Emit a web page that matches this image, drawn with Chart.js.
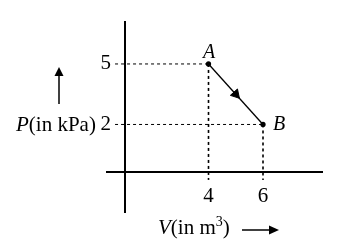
<!DOCTYPE html>
<html>
<head>
<meta charset="utf-8">
<script src="https://cdn.jsdelivr.net/npm/chart.js@4.4.1/dist/chart.umd.min.js"></script>
<style>
  html, body { margin: 0; padding: 0; background: #fff; }
  #wrap { width: 361px; height: 244px; }
</style>
</head>
<body>
<div id="wrap"><canvas id="myChart"></canvas></div>
<script>
// states of the gas
const stateNames = ['A', 'B'];
const volumes = [4, 6];     // V (m^3)
const pressures = [5, 2];   // P (kPa)
const xTicks = [4, 6];
const yTicks = [5, 2];

document.addEventListener('DOMContentLoaded', () => {
  const ctx = document.getElementById('myChart');
  const serif = "'Liberation Serif', 'DejaVu Serif', serif";

  // where the two axes cross, and how far the guide lines run
  const cross = { x: 0.94, y: -0.34 };
  const guideLeft = 0.57;
  const guideLow = -0.75;

  const dotted = {
    borderColor: '#000',
    borderWidth: 1,
    borderDash: [3, 3],
    pointRadius: 0,
    fill: false,
    clip: false
  };
  const guides = [];
  volumes.forEach((v, i) => {
    guides.push({ data: [{ x: guideLeft, y: pressures[i] }, { x: v, y: pressures[i] }], ...dotted });
    guides.push({ data: [{ x: v, y: pressures[i] }, { x: v, y: guideLow }], ...dotted, borderWidth: 1.6 });
  });

  const path = volumes.map((v, i) => ({ x: v, y: pressures[i] }));
  const mid = {
    x: (volumes[0] + volumes[1]) / 2,
    y: (pressures[0] + pressures[1]) / 2
  };

  const labelPlugin = {
    id: 'labels',
    afterDraw(chart) {
      const c = chart.ctx;
      const xs = chart.scales.x, ys = chart.scales.y;
      c.save();
      c.fillStyle = '#000';
      c.strokeStyle = '#000';

      // y tick labels, left of the axis (chart.js puts them on the line
      // when the axis is placed by value)
      c.font = '21px ' + serif;
      c.textAlign = 'right';
      c.textBaseline = 'middle';
      const axisPx = xs.getPixelForValue(cross.x);
      ys.ticks.forEach(t => {
        c.fillText(String(t.value), axisPx - 14, ys.getPixelForValue(t.value));
      });

      c.textBaseline = 'alphabetic';
      // state names
      c.font = 'italic 20px ' + serif;
      c.textAlign = 'center';
      c.fillText(stateNames[0], xs.getPixelForValue(volumes[0]) + 0.5, ys.getPixelForValue(pressures[0]) - 6);
      c.textAlign = 'left';
      c.fillText(stateNames[1], xs.getPixelForValue(volumes[1]) + 10, ys.getPixelForValue(pressures[1]) + 6);

      // y title: P(in kPa) with an up arrow
      let x = 16, y = 131;
      c.font = 'italic 21px ' + serif;
      c.fillText('P', x, y);
      x += c.measureText('P').width;
      c.font = '21px ' + serif;
      c.fillText('(in kPa)', x, y);

      c.lineWidth = 1.5;
      c.beginPath();
      c.moveTo(59, 104);
      c.lineTo(59, 74);
      c.stroke();
      c.beginPath();
      c.moveTo(59, 67);
      c.lineTo(54.5, 76);
      c.lineTo(63.5, 76);
      c.closePath();
      c.fill();

      // x title: V(in m3) with a right arrow
      x = 158; y = 234;
      c.font = 'italic 21px ' + serif;
      c.fillText('V', x, y);
      x += c.measureText('V').width;
      c.font = '21px ' + serif;
      c.fillText('(in m', x, y);
      x += c.measureText('(in m').width;
      c.font = '14px ' + serif;
      c.fillText('3', x, y - 8);
      x += c.measureText('3').width;
      c.font = '21px ' + serif;
      c.fillText(')', x, y);

      c.beginPath();
      c.moveTo(242, 230);
      c.lineTo(270, 230);
      c.stroke();
      c.beginPath();
      c.moveTo(279, 230);
      c.lineTo(269, 225.5);
      c.lineTo(269, 234.5);
      c.closePath();
      c.fill();
      c.restore();
    }
  };

  const config = {
    type: 'line',
    data: {
      datasets: [
        ...guides,
        {
          data: path,
          borderColor: '#000',
          borderWidth: 1.3,
          pointRadius: 2.6,
          pointBackgroundColor: '#000',
          pointBorderWidth: 0,
          fill: false,
          clip: false
        },
        {
          data: [mid],
          showLine: false,
          pointStyle: 'triangle',
          pointRadius: 5.5,
          rotation: 138,
          backgroundColor: '#000',
          borderColor: '#000',
          borderWidth: 1
        }
      ]
    },
    options: {
      responsive: true,
      maintainAspectRatio: false,
      animation: false,
      layout: { padding: { left: 107, right: 39, top: 22, bottom: 32 } },
      plugins: {
        legend: { display: false },
        tooltip: { enabled: false }
      },
      scales: {
        x: {
          type: 'linear',
          min: 0.275, max: 8.165,
          position: { y: cross.y },
          grid: { display: false, drawTicks: false },
          border: { display: true, color: '#000', width: 2 },
          afterBuildTicks: s => { s.ticks = xTicks.map(v => ({ value: v })); },
          ticks: { color: '#000', font: { family: serif, size: 21 }, padding: 12, maxRotation: 0 }
        },
        y: {
          type: 'linear',
          min: -2.34, max: 7.08,
          position: { x: cross.x },
          grid: { display: false, drawTicks: false },
          border: { display: true, color: '#000', width: 2 },
          afterBuildTicks: s => { s.ticks = yTicks.map(v => ({ value: v })); },
          ticks: { display: false }
        }
      }
    },
    plugins: [labelPlugin]
  };

  new Chart(ctx, config);
});
</script>
</body>
</html>
